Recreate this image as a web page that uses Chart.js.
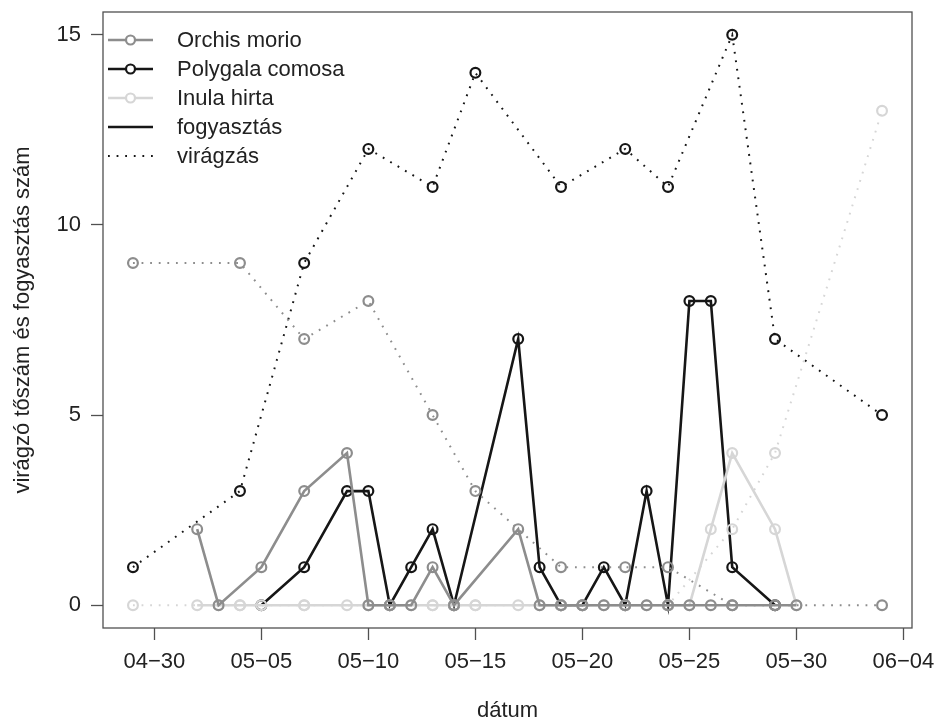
<!DOCTYPE html>
<html>
<head>
<meta charset="utf-8">
<script src="https://cdn.jsdelivr.net/npm/chart.js@4/dist/chart.umd.min.js"></script>
<style>
  html, body { margin: 0; padding: 0; background: #fff; }
  #wrap { width: 939px; height: 722px; }
</style>
</head>
<body>
<div id="wrap"><canvas id="c" width="939" height="722"></canvas></div>
<script>
// Flowering counts (virágzás), recorded on the survey days
const flowerDates = ['04-29','05-04','05-07','05-10','05-13','05-15','05-19','05-22','05-24','05-27','05-29','06-03'];
const orchisFlower   = [9, 9, 7, 8, 5, 3, 1, 1, 1, 0, 0, 0];
const polygalaFlower = [1, 3, 9, 12, 11, 14, 11, 12, 11, 15, 7, 5];
const inulaFlower    = [0, 0, 0, 0, 0, 0, 0, 0, 0, 2, 4, 13];

// Consumption counts (fogyasztás)
const orchisEatDates = ['05-02','05-03','05-05','05-07','05-09','05-10','05-11','05-12','05-13','05-14','05-17','05-18','05-19','05-20','05-21','05-22','05-23','05-24','05-25','05-26','05-27','05-29','05-30'];
const orchisEat      = [2, 0, 1, 3, 4, 0, 0, 0, 1, 0, 2, 0, 0, 0, 0, 0, 0, 0, 0, 0, 0, 0, 0];

const polygalaEatDates = ['05-05','05-07','05-09','05-10','05-11','05-12','05-13','05-14','05-17','05-18','05-19','05-20','05-21','05-22','05-23','05-24','05-25','05-26','05-27','05-29'];
const polygalaEat      = [0, 1, 3, 3, 0, 1, 2, 0, 7, 1, 0, 0, 1, 0, 3, 0, 8, 8, 1, 0];

const inulaEatDates = ['05-02','05-03','05-04','05-05','05-07','05-09','05-10','05-11','05-12','05-13','05-14','05-15','05-17','05-18','05-19','05-20','05-21','05-22','05-23','05-24','05-25','05-26','05-27','05-29','05-30'];
const inulaEat      = [0, 0, 0, 0, 0, 0, 0, 0, 0, 0, 0, 0, 0, 0, 0, 0, 0, 0, 0, 0, 0, 2, 4, 2, 0];

// Axis ticks
const xTickDates = ['04-30','05-05','05-10','05-15','05-20','05-25','05-30','06-04'];
const yTicks = [0, 5, 10, 15];

// Legend entries
const legendLabels = ['Orchis morio', 'Polygala comosa', 'Inula hirta', 'fogyasztás', 'virágzás'];

const COL_ORCHIS = '#8d8d8d';
const COL_POLY = '#161616';
const COL_INULA = '#d6d6d6';
const TEXT = '#222';
const FONT = '"Liberation Sans", Arial, Helvetica, sans-serif';
const FS = 22;
const DAY = 864e5;
const BASE = Date.UTC(2000, 3, 30);

// day offset from 04-30
function dayIndex(md) {
  const [m, d] = md.split('-').map(Number);
  return (Date.UTC(2000, m - 1, d) - BASE) / DAY;
}
function dayLabel(v) {
  const dt = new Date(BASE + v * DAY);
  const mm = String(dt.getUTCMonth() + 1).padStart(2, '0');
  const dd = String(dt.getUTCDate()).padStart(2, '0');
  return mm + '\u2212' + dd;
}
function pts(dates, vals) {
  return dates.map((d, i) => ({ x: dayIndex(d), y: vals[i] }));
}

const DOTS = [1.8, 6.8];
const PR = 4.9;

function series(label, dates, vals, color, dotted, order) {
  return {
    label,
    data: pts(dates, vals),
    borderColor: color,
    borderWidth: dotted ? 2 : 2.6,
    borderDash: dotted ? DOTS : [],
    borderCapStyle: 'butt',
    pointStyle: 'circle',
    pointRadius: PR,
    pointBorderWidth: 2.2,
    pointBorderColor: color,
    pointBackgroundColor: 'rgba(0,0,0,0)',
    pointHoverRadius: PR,
    fill: false,
    tension: 0,
    order
  };
}

const datasets = [
  series('Orchis morio fogyasztás', orchisEatDates, orchisEat, COL_ORCHIS, false, 1),
  series('Orchis morio virágzás', flowerDates, orchisFlower, COL_ORCHIS, true, 2),
  series('Inula hirta fogyasztás', inulaEatDates, inulaEat, COL_INULA, false, 3),
  series('Inula hirta virágzás', flowerDates, inulaFlower, COL_INULA, true, 4),
  series('Polygala comosa fogyasztás', polygalaEatDates, polygalaEat, COL_POLY, false, 5),
  series('Polygala comosa virágzás', flowerDates, polygalaFlower, COL_POLY, true, 6)
];

// Frame around the plotting region and the key in its upper-left corner
const frameAndKey = {
  id: 'frameAndKey',
  afterDraw(chart) {
    const { ctx, chartArea: a } = chart;
    ctx.save();
    ctx.strokeStyle = '#505050';
    ctx.lineWidth = 1.3;
    ctx.strokeRect(a.left, a.top, a.right - a.left, a.bottom - a.top);

    const styles = [
      { color: COL_ORCHIS, dash: [], point: true },
      { color: COL_POLY, dash: [], point: true },
      { color: COL_INULA, dash: [], point: true },
      { color: COL_POLY, dash: [], point: false },
      { color: COL_POLY, dash: DOTS, point: false }
    ];
    const x0 = a.left + 5, x1 = a.left + 50, xt = a.left + 74;
    ctx.font = FS + 'px ' + FONT;
    ctx.textBaseline = 'middle';
    ctx.textAlign = 'left';
    legendLabels.forEach((txt, i) => {
      const y = a.top + 28 + i * 29;
      const s = styles[i];
      ctx.strokeStyle = s.color;
      ctx.lineWidth = s.dash.length ? 2 : 2.6;
      ctx.setLineDash(s.dash);
      ctx.beginPath();
      ctx.moveTo(x0, y);
      ctx.lineTo(x1, y);
      ctx.stroke();
      ctx.setLineDash([]);
      if (s.point) {
        ctx.fillStyle = '#fff';
        ctx.lineWidth = 2.2;
        ctx.beginPath();
        ctx.arc((x0 + x1) / 2, y, PR - 0.4, 0, Math.PI * 2);
        ctx.fill();
        ctx.stroke();
      }
      ctx.fillStyle = TEXT;
      ctx.fillText(txt, xt, y + 1);
    });
    ctx.restore();
  }
};

// keep the plotting region fixed: no extra room reserved for overhanging labels
function noLabelPadding(scale) {
  scale.paddingTop = 0;
  scale.paddingBottom = 0;
  scale.paddingLeft = 0;
  scale.paddingRight = 0;
}

new Chart(document.getElementById('c'), {
  type: 'line',
  data: { datasets },
  plugins: [frameAndKey],
  options: {
    responsive: false,
    animation: false,
    events: [],
    layout: { padding: { left: 0, top: 12, right: 27, bottom: 0 } },
    plugins: { legend: { display: false }, tooltip: { enabled: false } },
    scales: {
      x: {
        type: 'linear',
        min: -2.4,
        max: 35.4,
        afterBuildTicks(scale) {
          scale.ticks = xTickDates.map(d => ({ value: dayIndex(d) }));
        },
        afterFit(scale) { scale.height = 94; noLabelPadding(scale); },
        grid: { drawOnChartArea: false, drawTicks: true, tickLength: 12, tickColor: '#505050', tickWidth: 1.3 },
        border: { display: false },
        ticks: {
          autoSkip: false,
          maxRotation: 0,
          padding: 10,
          color: TEXT,
          font: { size: FS, family: FONT, lineHeight: 1.1 },
          callback: v => dayLabel(v)
        },
        title: {
          display: true,
          text: 'dátum',
          color: TEXT,
          font: { size: FS, family: FONT, lineHeight: 1.0 },
          padding: { top: 0, bottom: 0 }
        }
      },
      y: {
        type: 'linear',
        min: -0.6,
        max: 15.6,
        afterBuildTicks(scale) {
          scale.ticks = yTicks.map(v => ({ value: v }));
        },
        afterFit(scale) { scale.width = 103; noLabelPadding(scale); },
        grid: { drawOnChartArea: false, drawTicks: true, tickLength: 12, tickColor: '#505050', tickWidth: 1.3 },
        border: { display: false },
        ticks: {
          padding: 10,
          color: TEXT,
          font: { size: FS, family: FONT }
        },
        title: {
          display: true,
          text: 'virágzó tőszám és fogyasztás szám',
          color: TEXT,
          font: { size: FS, family: FONT, lineHeight: 1.0 },
          padding: { top: 12, bottom: 0 }
        }
      }
    }
  }
});
</script>
</body>
</html>
